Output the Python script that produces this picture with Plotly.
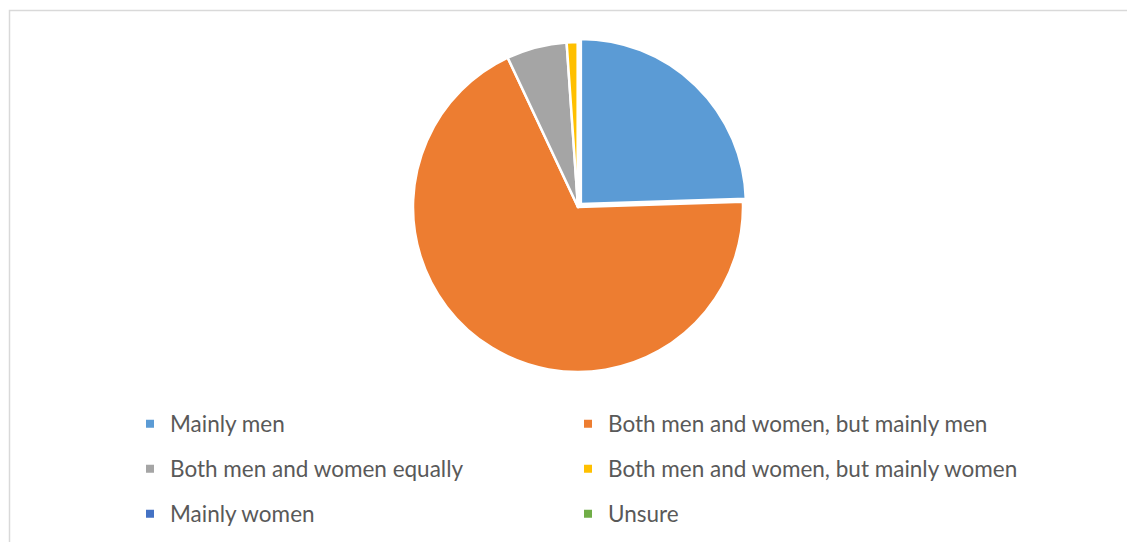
import plotly.graph_objects as go

W, H = 1135, 542

labels = ["Mainly men", "Both men and women, but mainly men", "Both men and women equally",
          "Both men and women, but mainly women", "Mainly women", "Unsure"]
values = [24.5, 68.5, 5.9, 1.1, 0, 0]
colors = ["#5B9BD5", "#ED7D31", "#A5A5A5", "#FFC000", "#4472C4", "#70AD47"]
pulls = [0.025, 0, 0, 0, 0, 0]

fig = go.Figure()

# page body has an 8px margin; coordinates below are relative to the figure
cx, cy, r = 570, 199, 165
R = r * (1 + max(pulls))
fig.add_trace(go.Pie(
    labels=labels, values=values, sort=False, direction="clockwise", rotation=0,
    pull=pulls,
    marker=dict(colors=colors, line=dict(color="white", width=2.5)),
    textinfo="none", hoverinfo="label+percent", showlegend=False,
    domain=dict(x=[(cx - R) / W, (cx + R) / W], y=[1 - (cy + R) / H, 1 - (cy - R) / H]),
))

legend_names = ["legend", "legend2", "legend3", "legend4", "legend5", "legend6"]
for i, (lab, col) in enumerate(zip(labels, colors)):
    fig.add_trace(go.Scatter(
        x=[None], y=[None], mode="markers", name=lab,
        marker=dict(symbol="square", size=8, color=col),
        legend=legend_names[i], showlegend=True, hoverinfo="skip",
    ))

row_y = [416, 461, 506]
col_x = [122, 560]
leg_common = dict(orientation="h", xref="container", yref="container", xanchor="left",
                  yanchor="middle",
                  font=dict(family="Lato, Open Sans, sans-serif", size=22.5, color="#595959"),
                  bgcolor="rgba(0,0,0,0)", itemclick=False, itemdoubleclick=False)
layout_legends = {}
for i, name in enumerate(legend_names):
    layout_legends[name] = dict(leg_common, x=col_x[i % 2] / W, y=1 - row_y[i // 2] / H)

fig.update_layout(
    width=W, height=H, margin=dict(l=0, r=0, t=0, b=0, autoexpand=False),
    paper_bgcolor="white", plot_bgcolor="white",
    xaxis=dict(visible=False), yaxis=dict(visible=False),
    shapes=[dict(type="rect", xref="paper", yref="paper",
                 x0=1.5 / W, x1=1145 / W, y0=-10 / H, y1=1 - 2.5 / H,
                 line=dict(color="#d9d9d9", width=1.5), fillcolor="rgba(0,0,0,0)")],
    **layout_legends,
)

fig.write_html("out.html")
